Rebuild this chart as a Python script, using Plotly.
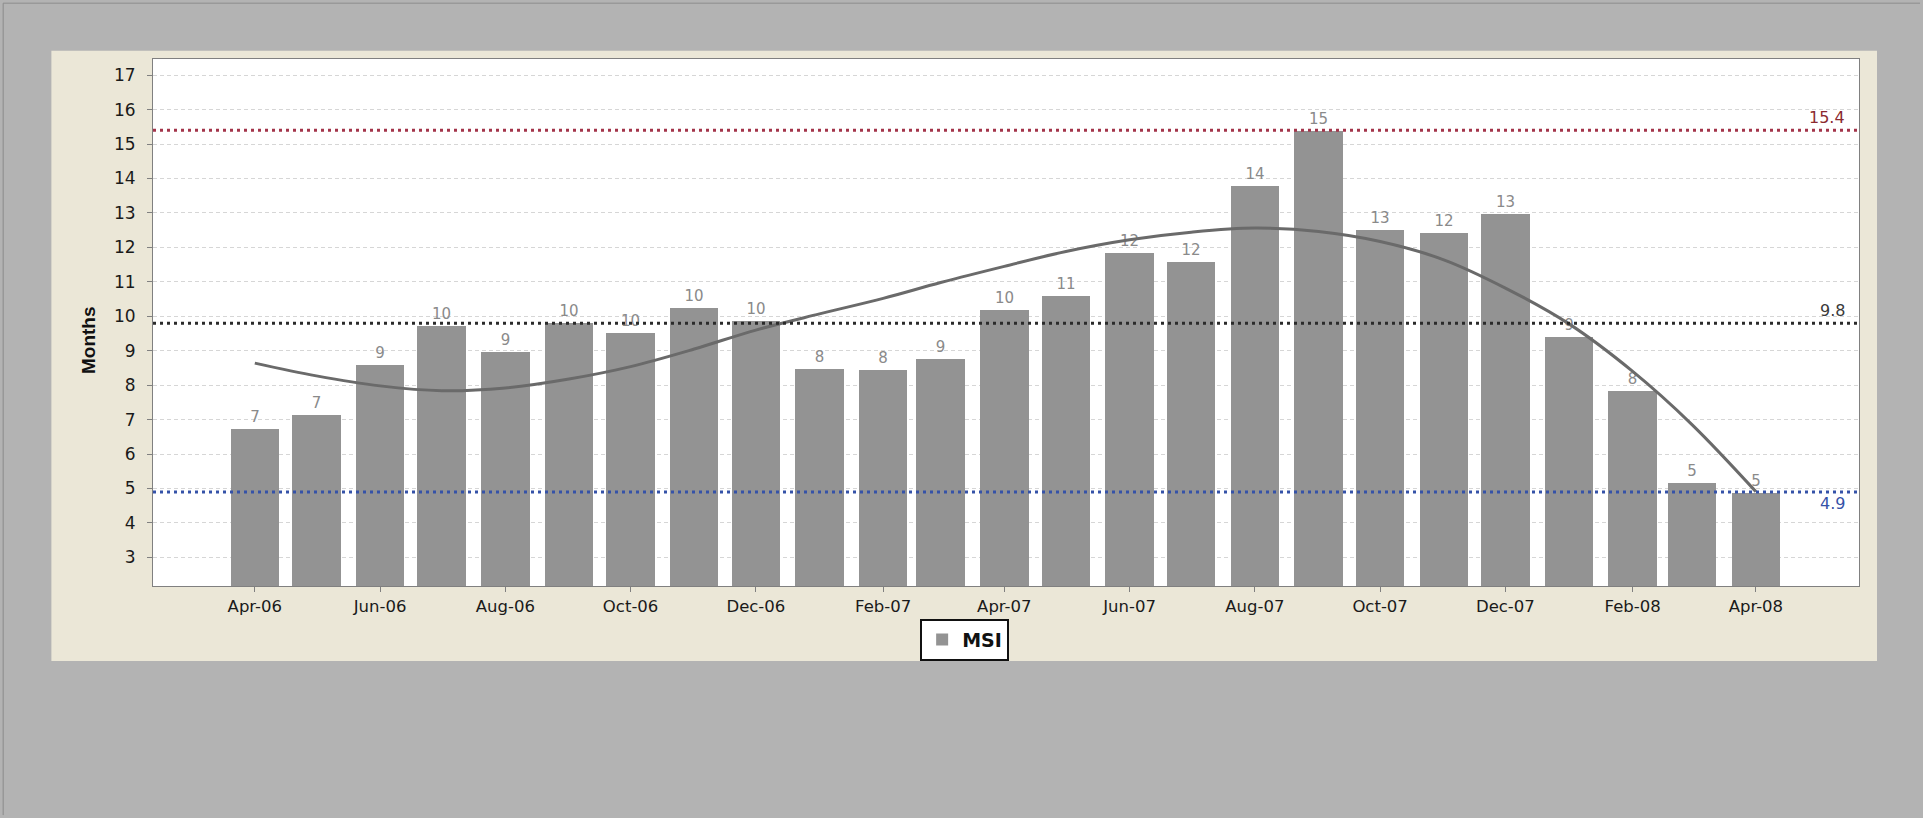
import plotly.graph_objects as go

# ---- data ----
months = ["2006-04-01", "2006-05-01", "2006-06-01", "2006-07-01", "2006-08-01",
          "2006-09-01", "2006-10-01", "2006-11-01", "2006-12-01", "2007-01-01",
          "2007-02-01", "2007-03-01", "2007-04-01", "2007-05-01", "2007-06-01",
          "2007-07-01", "2007-08-01", "2007-09-01", "2007-10-01", "2007-11-01",
          "2007-12-01", "2008-01-01", "2008-02-01", "2008-03-01", "2008-04-01"]
msi = [6.72, 7.14, 8.60, 9.72, 8.96, 9.80, 9.52, 10.24, 9.85, 8.48,
       8.43, 8.76, 10.19, 10.60, 11.84, 11.58, 13.79, 15.39, 12.51, 12.42,
       12.98, 9.40, 7.84, 5.16, 4.87]
trend = [8.64, 8.27, 7.98, 7.84, 7.92, 8.18, 8.54, 9.05, 9.60, 10.07,
         10.52, 10.98, 11.45, 11.88, 12.22, 12.44, 12.56, 12.46, 12.17, 11.64,
         10.82, 9.78, 8.40, 6.85, 4.91]
ref_max = 15.4
ref_avg = 9.8
ref_min = 4.9
bar_labels = [str(int(v + 0.5)) for v in msi]

BAR_W_MS = 23.6 * 86400000

fig = go.Figure()

fig.add_trace(go.Bar(
    x=months, y=msi, name="MSI", width=BAR_W_MS,
    marker=dict(color="#939393", line=dict(width=0)),
    text=bar_labels, textposition="outside", cliponaxis=False,
    textfont=dict(family="DejaVu Sans", size=15, color="#8a8a8a"),
    constraintext="none",
))

fig.add_trace(go.Scatter(
    x=months, y=trend, mode="lines", showlegend=False,
    line=dict(color="#6a6a6a", width=3, shape="spline", smoothing=1),
    hoverinfo="skip",
))

# plot area geometry (px)
L, R, T, B = 153.3, 1859.0, 59.3, 586.0
PW, PH = R - L, B - T

def px_x(v):
    return (v - L) / PW

def px_y(v):
    return (B - v) / PH

shapes = [
    # beige panel
    dict(type="rect", xref="paper", yref="paper", layer="below",
         x0=px_x(51.7), x1=px_x(1877), y0=px_y(661), y1=px_y(51),
         fillcolor="#ebe7d7", line=dict(width=0)),
    # white plot area on top of the panel
    dict(type="rect", xref="paper", yref="paper", layer="below",
         x0=0, x1=1, y0=0, y1=1,
         fillcolor="#ffffff", line=dict(width=0)),
    # outer frame (left/top)
    dict(type="line", xref="paper", yref="paper", layer="below",
         x0=px_x(3.5), x1=px_x(3.5), y0=px_y(815), y1=px_y(3.5),
         line=dict(color="#8c8c8c", width=1)),
    dict(type="line", xref="paper", yref="paper", layer="below",
         x0=px_x(3.5), x1=px_x(1920), y0=px_y(3.5), y1=px_y(3.5),
         line=dict(color="#8c8c8c", width=1)),
]
for val, col in [(ref_max, "#a3344a"), (ref_avg, "#2a2a2a"), (ref_min, "#3552a8")]:
    shapes.append(dict(type="line", xref="paper", yref="y", layer="above",
                       x0=0, x1=1, y0=val, y1=val,
                       line=dict(color=col, width=3, dash="3px,4px")))

annotations = [
    dict(xref="paper", yref="y", x=px_x(1847), y=ref_max, text=f"{ref_max}",
         xanchor="right", yanchor="middle", yshift=13, showarrow=False,
         font=dict(family="DejaVu Sans", size=16, color="#8c2a30")),
    dict(xref="paper", yref="y", x=px_x(1847), y=ref_avg, text=f"{ref_avg}",
         xanchor="right", yanchor="middle", yshift=13, showarrow=False,
         font=dict(family="DejaVu Sans", size=16, color="#3a3a3a")),
    dict(xref="paper", yref="y", x=px_x(1847), y=ref_min, text=f"{ref_min}",
         xanchor="right", yanchor="middle", yshift=-12, showarrow=False,
         font=dict(family="DejaVu Sans", size=16, color="#3552a8")),
    dict(xref="paper", yref="paper", x=px_x(89.5), y=px_y(340), text="<b>Months</b>",
         textangle=-90, xanchor="center", yanchor="middle", showarrow=False,
         font=dict(family="Liberation Sans Narrow, Liberation Sans", size=19, color="#111111")),
]

fig.update_layout(
    width=1923, height=818,
    margin=dict(l=L, r=1923 - R, t=T, b=818 - B, autoexpand=False),
    paper_bgcolor="#b3b3b3", plot_bgcolor="#ffffff",
    shapes=shapes, annotations=annotations,
    showlegend=True,
    legend=dict(x=px_x(964.8), y=px_y(639.6), xanchor="center", yanchor="middle",
                orientation="h", bgcolor="#ffffff", bordercolor="#111111", borderwidth=2,
                font=dict(family="DejaVu Sans", size=19, color="#111111", weight="bold"),
                itemwidth=30),
    bargap=0,
)

fig.update_xaxes(
    type="date", range=["2006-02-10 10:00", "2008-05-21 05:00"],
    tick0="2006-04-01", dtick="M2", tickformat="%b-%y",
    ticks="outside", ticklen=5, tickcolor="#808080",
    showline=True, linecolor="#808080", linewidth=1, mirror=True,
    showgrid=False, zeroline=False,
    tickfont=dict(family="DejaVu Sans", size=16.5, color="#1a1a1a"),
)
fig.update_yaxes(
    range=[2.17, 17.47], tickvals=list(range(3, 18)),
    ticks="outside", ticklen=5, tickcolor="#808080", ticklabelstandoff=8,
    showline=True, linecolor="#808080", linewidth=1, mirror=True,
    showgrid=True, gridcolor="#d6d6d6", gridwidth=1, griddash="4px,3px",
    zeroline=False,
    tickfont=dict(family="DejaVu Sans", size=17, color="#1a1a1a"),
)

fig.write_html("out.html",
               config={"displayModeBar": False},
               post_script="document.body.style.margin='0';document.body.style.background='#b3b3b3';")
